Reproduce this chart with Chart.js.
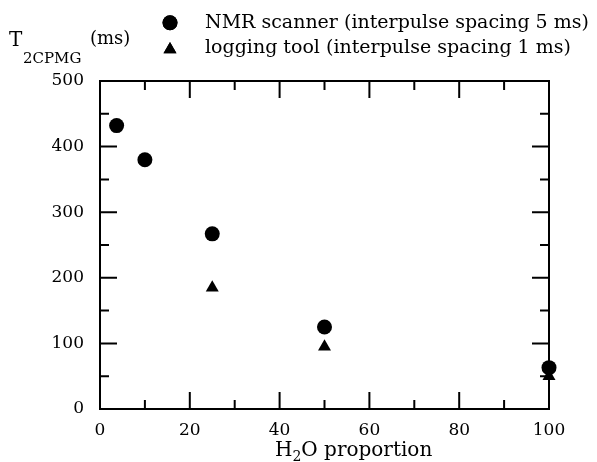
<!DOCTYPE html>
<html>
<head>
<meta charset="utf-8">
<script src="https://cdn.jsdelivr.net/npm/chart.js@4.4.0/dist/chart.umd.min.js"></script>
<style>
  body { margin: 0; background: #fff; }
</style>
</head>
<body>
<canvas id="chart" width="597" height="462"></canvas>
<script>
// NMR scanner, interpulse spacing 5 ms
var nmrH2O = [3.7, 10, 25, 50, 100];
var nmrT2 = [432, 380, 267, 125, 63];
// logging tool, interpulse spacing 1 ms
var toolH2O = [25, 50, 100];
var toolT2 = [185, 95, 50];

var xTicks = [0, 20, 40, 60, 80, 100];
var xMinorTicks = [10, 30, 50, 70, 90];
var yTicks = [0, 100, 200, 300, 400, 500];
var yMinorTicks = [50, 150, 250, 350, 450];

var serif = '"DejaVu Serif", "Liberation Serif", serif';

function points(xs, ys) {
  return xs.map(function (x, i) { return { x: x, y: ys[i] }; });
}

// frame with inward ticks on all four sides
var framePlugin = {
  id: 'frame',
  beforeDatasetsDraw: function (chart) {
    var ctx = chart.ctx, a = chart.chartArea;
    var xs = chart.scales.x, ys = chart.scales.y;
    ctx.save();
    ctx.strokeStyle = '#000';
    ctx.lineWidth = 2;
    ctx.strokeRect(a.left, a.top, a.right - a.left, a.bottom - a.top);
    ctx.beginPath();
    function xt(v, len) {
      var p = xs.getPixelForValue(v);
      ctx.moveTo(p, a.bottom); ctx.lineTo(p, a.bottom - len);
      ctx.moveTo(p, a.top); ctx.lineTo(p, a.top + len);
    }
    function yt(v, len) {
      var p = ys.getPixelForValue(v);
      ctx.moveTo(a.left, p); ctx.lineTo(a.left + len, p);
      ctx.moveTo(a.right, p); ctx.lineTo(a.right - len, p);
    }
    xTicks.forEach(function (v) { xt(v, 17); });
    xMinorTicks.forEach(function (v) { xt(v, 9); });
    yTicks.forEach(function (v) { yt(v, 17); });
    yMinorTicks.forEach(function (v) { yt(v, 9); });
    ctx.stroke();
    ctx.restore();
  },
  afterDraw: function (chart) {
    var ctx = chart.ctx;
    ctx.save();
    ctx.fillStyle = '#000';
    ctx.textBaseline = 'alphabetic';
    ctx.textAlign = 'left';

    // y axis title: T_2CPMG (ms)
    ctx.font = '20px ' + serif;
    ctx.fillText('T', 9, 46);
    ctx.font = '15px ' + serif;
    ctx.fillText('2CPMG', 23, 63);
    ctx.font = '18px ' + serif;
    ctx.fillText('(ms)', 90, 44);

    // x axis title: H2O proportion
    ctx.font = '20px ' + serif;
    var x = 275;
    ctx.fillText('H', x, 456);
    x += ctx.measureText('H').width;
    ctx.font = '14px ' + serif;
    ctx.fillText('2', x, 461);
    x += ctx.measureText('2').width;
    ctx.font = '20px ' + serif;
    ctx.fillText('O proportion', x, 456);

    // legend
    var rows = [[22.7, 28], [49.5, 53]];
    chart.data.datasets.forEach(function (ds, i) {
      Chart.helpers.drawPoint(ctx, {
        pointStyle: ds.pointStyle, radius: 7.5, rotation: 0, borderWidth: 0
      }, 170, rows[i][0]);
      ctx.fill();
      ctx.font = '19px ' + serif;
      ctx.fillText(ds.label, 205, rows[i][1]);
    });
    ctx.restore();
  }
};

new Chart(document.getElementById('chart'), {
  type: 'scatter',
  data: {
    datasets: [
      {
        label: 'NMR scanner (interpulse spacing 5 ms)',
        data: points(nmrH2O, nmrT2),
        pointStyle: 'circle',
        pointRadius: 7.5,
        pointHoverRadius: 7.5,
        backgroundColor: '#000',
        borderColor: '#000',
        borderWidth: 0,
        clip: false
      },
      {
        label: 'logging tool (interpulse spacing 1 ms)',
        data: points(toolH2O, toolT2),
        pointStyle: 'triangle',
        pointRadius: 7.5,
        pointHoverRadius: 7.5,
        backgroundColor: '#000',
        borderColor: '#000',
        borderWidth: 0,
        clip: false
      }
    ]
  },
  options: {
    responsive: false,
    animation: false,
    events: [],
    layout: { padding: { top: 81, right: 48, left: 0, bottom: 0 } },
    plugins: {
      legend: { display: false },
      tooltip: { enabled: false }
    },
    scales: {
      x: {
        type: 'linear',
        min: 0,
        max: 100,
        afterBuildTicks: function (s) { s.ticks = xTicks.map(function (v) { return { value: v }; }); },
        afterFit: function (s) { s.height = 53; },
        grid: { display: false },
        border: { display: false },
        ticks: { color: '#000', padding: 3, font: { family: serif, size: 17 } }
      },
      y: {
        type: 'linear',
        min: 0,
        max: 500,
        afterBuildTicks: function (s) { s.ticks = yTicks.map(function (v) { return { value: v }; }); },
        afterFit: function (s) { s.width = 100; },
        grid: { display: false },
        border: { display: false },
        ticks: { color: '#000', padding: 8, font: { family: serif, size: 17 } }
      }
    }
  },
  plugins: [framePlugin]
});
</script>
</body>
</html>
